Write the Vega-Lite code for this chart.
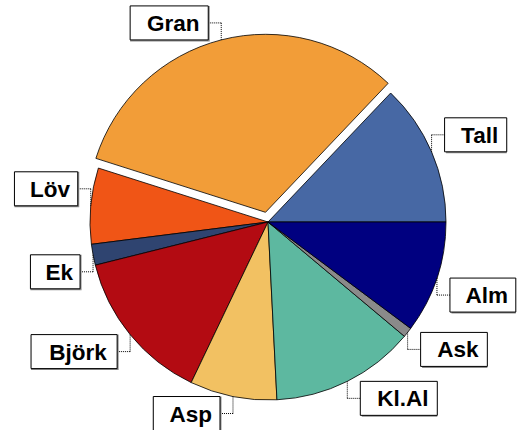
{
  "$schema": "https://vega.github.io/schema/vega-lite/v6.json",
  "width": 524,
  "height": 430,
  "autosize": "none",
  "padding": {"left": 6, "top": 7, "right": 0, "bottom": 0},
  "background": "white",
  "config": {"view": {"stroke": null}},
  "data": {
    "values": [
      {"name": "Tall", "value": 12.9},
      {"name": "Gran", "value": 32.2},
      {"name": "Löv", "value": 6.9},
      {"name": "Ek", "value": 1.9},
      {"name": "Björk", "value": 14.0},
      {"name": "Asp", "value": 7.9},
      {"name": "Kl.Al", "value": 13.1},
      {"name": "Ask", "value": 0.9},
      {"name": "Alm", "value": 10.2}
    ]
  },
  "transform": [
    {"stack": "value", "groupby": [], "as": ["p0", "p1"]},
    {"calculate": "PI*(datum.p0+datum.p1)/100", "as": "a"},
    {"calculate": "datum.name=='Gran' ? 188 : 178", "as": "ar"},
    {"calculate": "datum.ar*cos(datum.a)", "as": "ax"},
    {"calculate": "datum.ar*sin(datum.a)", "as": "ay"},
    {"calculate": "cos(datum.a) >= 0 ? 1 : -1", "as": "sx"},
    {"calculate": "datum.ay + (sin(datum.a) >= 0 ? 17 : -17)", "as": "ly"},
    {"calculate": "datum.ly - 17", "as": "ly1"},
    {"calculate": "datum.ly + 17", "as": "ly2"},
    {"calculate": "datum.ax + 13*datum.sx", "as": "bx"},
    {"calculate": "0.6*length(datum.name) - 0.32*(length(datum.name)-length(replace(datum.name, regexp('[lj.]','g'), ''))) - 0.2*(length(datum.name)-length(replace(datum.name, regexp('r','g'), ''))) + 0.12*(length(datum.name)-length(replace(datum.name, regexp('[EBAKG]','g'), ''))) + 0.29*(length(datum.name)-length(replace(datum.name, regexp('m','g'), '')))", "as": "u"},
    {"calculate": "datum.bx + datum.sx*(28.5*datum.u + 12)", "as": "bx2"},
    {"calculate": "(datum.bx + datum.bx2)/2 + 4", "as": "tx"}
  ],
  "encoding": {
    "x": {"type": "quantitative", "scale": {"domain": [-262, 262], "nice": false, "zero": false}, "axis": null},
    "y": {"type": "quantitative", "scale": {"domain": [-215, 215], "nice": false, "zero": false}, "axis": null}
  },
  "layer": [
    {
      "transform": [{"filter": "datum.name != 'Gran'"}],
      "mark": {"type": "arc", "outerRadius": 178, "stroke": "black", "strokeWidth": 0.8},
      "encoding": {
        "x": null, "y": null,
        "theta": {"field": "p0", "type": "quantitative", "scale": {"domain": [0, 100], "range": [1.5707963, -4.712389]}},
        "theta2": {"field": "p1"},
        "color": {
          "field": "name", "type": "nominal", "legend": null,
          "scale": {
            "domain": ["Tall", "Gran", "Löv", "Ek", "Björk", "Asp", "Kl.Al", "Ask", "Alm"],
            "range": ["#4768A4", "#F29D38", "#F05516", "#2F4470", "#B30B12", "#F2C162", "#5DB8A0", "#8A8A8A", "#000080"]
          }
        }
      }
    },
    {
      "transform": [{"filter": "datum.name == 'Gran'"}],
      "mark": {"type": "arc", "outerRadius": 178, "stroke": "black", "strokeWidth": 0.8, "xOffset": -2.5, "yOffset": -9.7},
      "encoding": {
        "x": null, "y": null,
        "theta": {"field": "p0", "type": "quantitative"},
        "theta2": {"field": "p1"},
        "color": {"field": "name", "type": "nominal", "legend": null}
      }
    },
    {
      "mark": {"type": "rule", "color": "black", "strokeWidth": 1, "strokeDash": [1, 1]},
      "encoding": {"x": {"field": "ax"}, "y": {"field": "ay"}, "y2": {"field": "ly"}}
    },
    {
      "mark": {"type": "rule", "color": "black", "strokeWidth": 1, "strokeDash": [1, 1]},
      "encoding": {"x": {"field": "ax"}, "x2": {"field": "bx"}, "y": {"field": "ly"}}
    },
    {
      "mark": {"type": "rect", "fill": "#8c8c8c", "xOffset": 1.5, "yOffset": 1.5},
      "encoding": {"x": {"field": "bx"}, "x2": {"field": "bx2"}, "y": {"field": "ly1"}, "y2": {"field": "ly2"}}
    },
    {
      "mark": {"type": "rect", "fill": "white", "stroke": "black", "strokeWidth": 1},
      "encoding": {"x": {"field": "bx"}, "x2": {"field": "bx2"}, "y": {"field": "ly1"}, "y2": {"field": "ly2"}}
    },
    {
      "mark": {"type": "text", "font": "Liberation Sans", "fontWeight": "bold", "fontSize": 22.5, "align": "center", "baseline": "middle", "dy": 1, "color": "black"},
      "encoding": {"x": {"field": "tx"}, "y": {"field": "ly"}, "text": {"field": "name"}}
    }
  ]
}
